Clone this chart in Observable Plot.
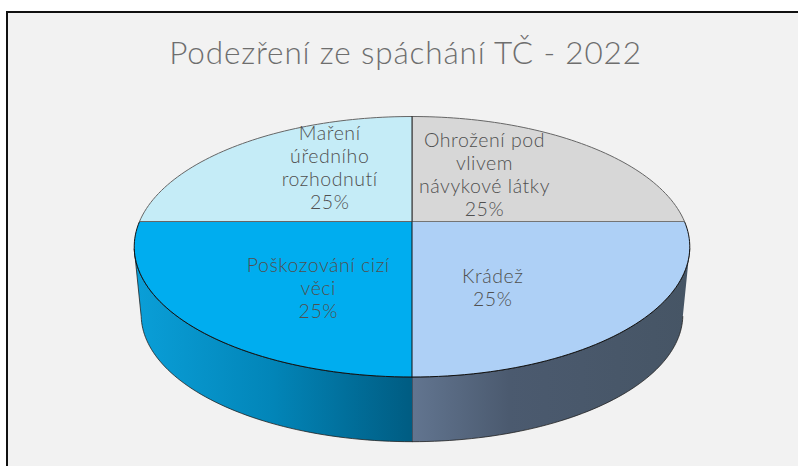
<!DOCTYPE html>
<html><head><meta charset="utf-8">
<script src="https://cdn.jsdelivr.net/npm/d3@7"></script>
<script src="https://cdn.jsdelivr.net/npm/@observablehq/plot@0.6"></script>
<style>
html,body{margin:0;padding:0;background:#fff;width:798px;height:466px;overflow:hidden}
#frame{position:absolute;left:6px;top:11px;width:792px;height:455px;background:#f2f2f2;border-left:2px solid #111;border-top:2px solid #111;box-sizing:border-box}
#title{position:absolute;left:0;top:33px;width:811px;text-align:center;font:300 31.5px Lato,sans-serif;letter-spacing:.85px;color:#6e6e6e;line-height:38px;margin:0}
#chart{position:absolute;left:0;top:0}
</style></head><body>
<div id="frame"></div>
<h1 id="title">Podezření ze spáchání TČ - 2022</h1>
<div id="chart"></div>
<script>
const titleText = "Podezření ze spáchání TČ - 2022";
const categories = ["Ohrožení pod\nvlivem\nnávykové látky", "Krádež", "Poškozování cizí\nvěci", "Maření\núředního\nrozhodnutí"];
const values = [25, 25, 25, 25];
const topColors = ["#d7d7d7", "#aed0f6", "#00adef", "#c5ecf7"];
const rimColors = ["#666", "#111", "#111", "#666"];
const wallFills = [null, "url(#wallR)", "url(#wallL)", null];
const labelSpots = [[0.266, -0.378], [0.296, 0.52], [-0.344, 0.526], [-0.302, -0.43]];

// Tilted-disc projection of the pie, in disc units
const tilt = 0.1939, depth = 0.547, shrink = 0.975;
const total = d3.sum(values);
const arcs = d3.pie().sort(null).startAngle(0).endAngle(2 * Math.PI)(values);
const project = (t, s = 1, dy = 0) => {
  const w = 1 + tilt * Math.cos(t);
  return {x: s * Math.sin(t) / w, y: s * -Math.cos(t) / w + dy};
};
const samples = (a, b) => d3.range(0, 61).map(i => a + (b - a) * i / 60);
// angle at which the disc's outline is widest: the wall is visible from there round the front
const widest = d3.greatest(samples(0, Math.PI), t => project(t).x);

const slices = arcs.flatMap((a, i) => [
  {i, x: 0, y: 0},
  ...samples(a.startAngle, a.endAngle).map(t => ({i, ...project(t)}))
]);
const walls = arcs.flatMap((a, i) => {
  const s = Math.max(a.startAngle, widest), e = Math.min(a.endAngle, 2 * Math.PI - widest);
  if (!wallFills[i] || e <= s) return [];
  return [
    ...samples(s, e).map(t => ({i, ...project(t)})),
    ...samples(e, s).map(t => ({i, ...project(t, shrink, depth)}))
  ];
});
const sliceLayer = i => Plot.line(slices.filter(d => d.i === i), {
  x: "x", y: "y", fill: topColors[i], stroke: rimColors[i], strokeWidth: 1,
  strokeLinejoin: "round", curve: "linear"
});
const wallLayer = i => Plot.line(walls.filter(d => d.i === i), {
  x: "x", y: "y", fill: wallFills[i], stroke: "#222", strokeWidth: 0.8, curve: "linear"
});
const gradient = (id, stops) => () => {
  const g = d3.create("svg:linearGradient").attr("id", id);
  stops.forEach(([o, c]) => g.append("stop").attr("offset", o).attr("stop-color", c));
  const defs = d3.create("svg:defs"); defs.append(() => g.node());
  return defs.node();
};
const rad = 272.5, ryPx = 125.35;
const order = [1, 2, 0, 3];
const labels = categories.map((c, i) => ({
  text: `${c}\n${Math.round(values[i] / total * 100)}%`,
  x: labelSpots[i][0], y: labelSpots[i][1]
}));
const spoke = [{x: 0, y: 0}, project(arcs[0].startAngle)];
const chart = Plot.plot({
  width: 798, height: 466, margin: 0,
  style: {background: "transparent", overflow: "visible", letterSpacing: "0.55px"},
  x: {domain: [-411.5 / rad, (798 - 411.5) / rad], range: [0, 798], axis: null},
  y: {domain: [-221 / ryPx, (466 - 221) / ryPx], range: [0, 466], axis: null},
  marks: [
    gradient("wallL", [[0, "#0a9fd8"], [0.5, "#0285b8"], [1, "#005c82"]]),
    gradient("wallR", [[0, "#627590"], [0.35, "#4b5a6f"], [1, "#465565"]]),
    wallLayer(1), wallLayer(2),
    ...order.map(sliceLayer),
    Plot.line(spoke, {x: "x", y: "y", stroke: "#222", strokeWidth: 1}),
    Plot.text(labels, {x: "x", y: "y", text: "text", fill: "#505050",
      fontFamily: "Lato, sans-serif", fontWeight: 300, fontSize: 19.5, lineHeight: 1.18, lineAnchor: "middle", textAnchor: "middle"})
  ]
});
document.getElementById("chart").append(chart);
</script></body></html>
